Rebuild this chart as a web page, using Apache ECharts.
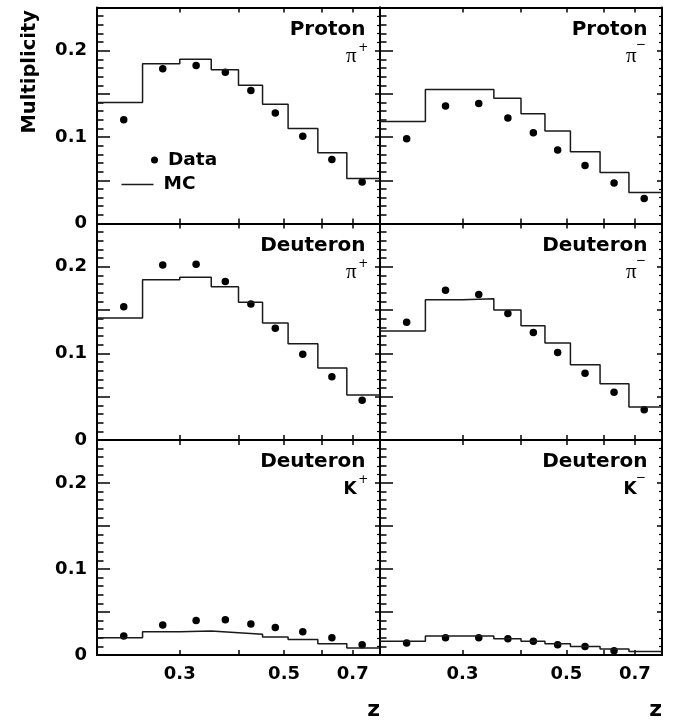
<!DOCTYPE html>
<html>
<head>
<meta charset="utf-8">
<script src="https://cdn.jsdelivr.net/npm/echarts@6/dist/echarts.min.js"></script>
<style>
  html, body { margin: 0; padding: 0; background: #fff; }
  #chart { width: 675px; height: 721px; }
</style>
</head>
<body>
<div id="chart"></div>
<script>
// z binning (bin edges) and mean z of each bin
const zEdges = [0.2, 0.25, 0.3, 0.35, 0.4, 0.45, 0.51, 0.59, 0.68, 0.8];
const zMean = [0.228, 0.276, 0.325, 0.375, 0.425, 0.479, 0.548, 0.632, 0.733];

// axis ticks
const xTicks = [0.3, 0.4, 0.5, 0.6, 0.7];
const xTickLabels = [0.3, 0.5, 0.7];
const yMin = 0;
const yMax = 0.25;
const yStep = 0.05;

// panel captions
const targets = ['Proton', 'Proton', 'Deuteron', 'Deuteron', 'Deuteron', 'Deuteron'];
const hadronSymbols = ['π', 'π', 'π', 'π', 'K', 'K'];
const hadronCharges = ['+', '−', '+', '−', '+', '−'];

// multiplicities: measured data and Monte Carlo
const dataProtonPiPlus = [0.120, 0.179, 0.183, 0.175, 0.154, 0.128, 0.101, 0.074, 0.048];
const mcProtonPiPlus = [0.140, 0.185, 0.190, 0.178, 0.160, 0.138, 0.110, 0.082, 0.052];
const dataProtonPiMinus = [0.098, 0.136, 0.139, 0.122, 0.105, 0.085, 0.067, 0.047, 0.029];
const mcProtonPiMinus = [0.118, 0.155, 0.155, 0.145, 0.127, 0.107, 0.083, 0.059, 0.036];
const dataDeuteronPiPlus = [0.154, 0.202, 0.203, 0.183, 0.157, 0.129, 0.099, 0.073, 0.046];
const mcDeuteronPiPlus = [0.141, 0.185, 0.188, 0.177, 0.159, 0.135, 0.111, 0.083, 0.052];
const dataDeuteronPiMinus = [0.136, 0.173, 0.168, 0.146, 0.124, 0.101, 0.077, 0.055, 0.035];
const mcDeuteronPiMinus = [0.126, 0.162, 0.163, 0.150, 0.132, 0.112, 0.087, 0.065, 0.038];
const dataDeuteronKPlus = [0.022, 0.035, 0.040, 0.041, 0.036, 0.032, 0.027, 0.020, 0.012];
const mcDeuteronKPlus = [0.020, 0.027, 0.028, 0.026, 0.024, 0.021, 0.018, 0.013, 0.008];
const dataDeuteronKMinus = [0.014, 0.020, 0.020, 0.019, 0.016, 0.012, 0.010, 0.005, null];
const mcDeuteronKMinus = [0.016, 0.022, 0.022, 0.019, 0.016, 0.013, 0.010, 0.007, 0.004];

const panelData = [dataProtonPiPlus, dataProtonPiMinus, dataDeuteronPiPlus,
                   dataDeuteronPiMinus, dataDeuteronKPlus, dataDeuteronKMinus];
const panelMC = [mcProtonPiPlus, mcProtonPiMinus, mcDeuteronPiPlus,
                 mcDeuteronPiMinus, mcDeuteronKPlus, mcDeuteronKMinus];

// layout of the 3 x 2 panel grid
const cols = [{ left: 97, width: 283 }, { left: 380, width: 282 }];
const rows = [{ top: 7.5, height: 216 }, { top: 223.5, height: 216.5 }, { top: 440, height: 216 }];

const SANS = '"DejaVu Sans", "Liberation Sans", sans-serif';
const SERIF = '"Liberation Serif", "DejaVu Serif", serif';
const lg = Math.log10;   // z is drawn on a logarithmic scale

const fmtY = v => {
  const t = Math.round(v * 100);
  if (t % 10 !== 0) return '';
  return t === 0 ? '0' : v.toFixed(1);
};

const grid = [], xAxis = [], yAxis = [], series = [], graphic = [];

graphic.push({
  type: 'text', x: 30, y: 10, rotation: Math.PI / 2,
  style: { text: 'Multiplicity', fontFamily: SANS, fontWeight: 'bold', fontSize: 19.5,
           fill: '#000', align: 'right', verticalAlign: 'middle' }
});

for (let p = 0; p < 6; p++) {
  const r = Math.floor(p / 2), c = p % 2;
  const g = { left: cols[c].left, width: cols[c].width, top: rows[r].top, height: rows[r].height };
  grid.push(g);
  const right = g.left + g.width;

  const xBase = {
    type: 'value', gridIndex: p, min: lg(zEdges[0]), max: lg(zEdges[zEdges.length - 1]),
    splitLine: { show: false },
    axisLine: { show: true, onZero: false, lineStyle: { color: '#000', width: 2 } },
    axisTick: { show: true, inside: true, length: 5, customValues: xTicks.map(lg),
                lineStyle: { color: '#000', width: 1.5 } }
  };
  xAxis.push(Object.assign({}, xBase, {
    position: 'bottom',
    axisLabel: { show: r === 2, customValues: xTickLabels.map(lg),
                 formatter: v => Math.pow(10, v).toFixed(1), margin: 10,
                 fontFamily: SANS, fontWeight: 'bold', fontSize: 18, color: '#000' },
    name: r === 2 ? 'z' : '', nameLocation: 'end', nameGap: 0,
    nameTextStyle: { fontFamily: SANS, fontWeight: 'bold', fontSize: 22, color: '#000',
                     align: 'right', verticalAlign: 'top', padding: [44, 0, 0, 0] }
  }));
  xAxis.push(Object.assign({}, xBase, { position: 'top', axisLabel: { show: false } }));

  const yBase = {
    type: 'value', gridIndex: p, min: yMin, max: yMax, interval: yStep,
    splitLine: { show: false }, minorSplitLine: { show: false },
    axisLine: { show: true, onZero: false, lineStyle: { color: '#000', width: 2 } }
  };
  yAxis.push(Object.assign({}, yBase, {
    position: 'left',
    axisTick: { show: true, inside: true, length: 13, lineStyle: { color: '#000', width: 1.5 } },
    minorTick: { show: true, splitNumber: 5, length: 6.5, lineStyle: { color: '#000', width: 1.5 } },
    axisLabel: { show: c === 0, formatter: fmtY, margin: 10, fontFamily: SANS,
                 fontWeight: 'bold', fontSize: 18, color: '#000' }
  }));
  yAxis.push(Object.assign({}, yBase, {
    position: 'right',
    axisTick: { show: true, inside: true, length: 5, lineStyle: { color: '#000', width: 1.5 } },
    minorTick: { show: true, splitNumber: 5, length: 3, lineStyle: { color: '#000', width: 1.2 } },
    axisLabel: { show: false }
  }));

  // MC histogram as a step outline over the bin edges
  const mc = panelMC[p];
  const steps = [];
  for (let i = 0; i < mc.length; i++) {
    steps.push([lg(zEdges[i]), mc[i]], [lg(zEdges[i + 1]), mc[i]]);
  }
  series.push({
    name: 'MC', type: 'line', xAxisIndex: 2 * p, yAxisIndex: 2 * p,
    data: steps, symbol: 'none', showSymbol: false, silent: true,
    lineStyle: { color: '#1a1a1a', width: 1.5 }, itemStyle: { color: '#1a1a1a' }
  });

  // measured points
  const pts = [];
  panelData[p].forEach((v, i) => { if (v !== null) pts.push([lg(zMean[i]), v]); });
  series.push({
    name: 'Data', type: 'scatter', xAxisIndex: 2 * p, yAxisIndex: 2 * p,
    data: pts, symbol: 'circle', symbolSize: 7.5,
    itemStyle: { color: '#000', opacity: 1 }
  });

  // panel caption: target and hadron type
  const top = g.top;
  graphic.push({
    type: 'text', x: right - 14.5, y: top + 21.8,
    style: { text: targets[p], fontFamily: SANS, fontWeight: 'bold', fontSize: 20,
             fill: '#000', align: 'right', verticalAlign: 'middle' }
  });
  const plus = hadronCharges[p] === '+';
  const symRight = right - (plus ? 23.3 : 25.3);
  if (hadronSymbols[p] === 'π') {
    graphic.push({
      type: 'text', x: symRight, y: top + 48.5,
      style: { text: 'π', fontFamily: SERIF, fontSize: 21, fill: '#000',
               align: 'right', verticalAlign: 'middle' }
    });
  } else {
    graphic.push({
      type: 'text', x: symRight, y: top + 50,
      style: { text: 'K', fontFamily: SANS, fontWeight: 'bold', fontSize: 17, fill: '#000',
               align: 'right', verticalAlign: 'middle' }
    });
  }
  graphic.push({
    type: 'text', x: symRight + (plus ? 1.5 : -1), y: top + (plus ? 40 : 37.5),
    style: { text: hadronCharges[p], fontFamily: SANS, fontSize: 12, fill: '#000',
             align: 'left', verticalAlign: 'middle' }
  });
}

const legendText = { fontFamily: SANS, fontWeight: 'bold', fontSize: 18.5, color: '#000' };

const option = {
  animation: false,
  backgroundColor: '#fff',
  grid, xAxis, yAxis, series, graphic,
  legend: [
    { data: [{ name: 'Data', icon: 'circle' }], left: 151, top: 150.5, padding: 0,
      itemWidth: 7, itemHeight: 7, itemGap: 0,
      itemStyle: { color: '#000', opacity: 1 },
      textStyle: Object.assign({ padding: [0, 0, 0, 5] }, legendText) },
    { data: [{ name: 'MC', icon: 'rect' }], left: 121.5, top: 175, padding: 0,
      itemWidth: 32, itemHeight: 1.5, itemGap: 0,
      itemStyle: { color: '#1a1a1a', borderWidth: 0 },
      textStyle: Object.assign({ padding: [0, 0, 0, 5] }, legendText) }
  ]
};

const chart = echarts.init(document.getElementById('chart'), null, { renderer: 'canvas' });
chart.setOption(option);
</script>
</body>
</html>
